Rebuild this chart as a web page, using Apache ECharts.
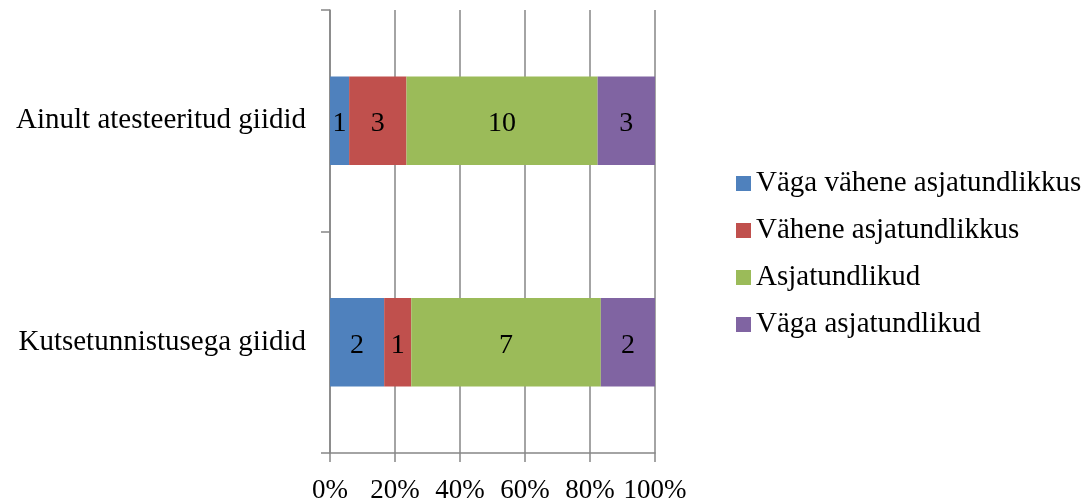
<!DOCTYPE html>
<html>
<head>
<meta charset="utf-8">
<script src="https://cdn.jsdelivr.net/npm/echarts@6/dist/echarts.min.js"></script>
<style>html,body{margin:0;padding:0;background:#fff}#c{width:1092px;height:504px}</style>
</head>
<body>
<div id="c"></div>
<script>
const categories = ['Ainult atesteeritud giidid', 'Kutsetunnistusega giidid'];
const seriesNames = ['Väga vähene asjatundlikkus', 'Vähene asjatundlikkus', 'Asjatundlikud', 'Väga asjatundlikud'];
const vagaVahene = [1, 2];
const vahene = [3, 1];
const asjatundlikud = [10, 7];
const vagaAsjatundlikud = [3, 2];
const xTicks = [0, 20, 40, 60, 80, 100];
const colors = ['#4F81BD', '#C0504D', '#9BBB59', '#8064A2'];

const counts = [vagaVahene, vahene, asjatundlikud, vagaAsjatundlikud];
const totals = categories.map((_, i) => counts.reduce((s, arr) => s + arr[i], 0));
const font = 'Liberation Serif';

const chart = echarts.init(document.getElementById('c'));
chart.setOption({
  animation: false,
  backgroundColor: '#fff',
  grid: { left: 330, right: 437, top: 10, bottom: 51, containLabel: false },
  legend: {
    orient: 'vertical',
    left: 731,
    top: 164,
    itemWidth: 15,
    itemHeight: 15,
    itemGap: 18,
    icon: 'rect',
    textStyle: { fontFamily: font, fontSize: 29, color: '#000', lineHeight: 29 },
    data: seriesNames
  },
  xAxis: {
    type: 'value',
    min: xTicks[0],
    max: xTicks[xTicks.length - 1],
    interval: 20,
    axisLine: { show: true, lineStyle: { color: '#868686', width: 1.5 } },
    axisTick: { show: true, length: 9, lineStyle: { color: '#868686', width: 1.5 } },
    splitLine: { show: true, lineStyle: { color: '#868686', width: 1.5 } },
    axisLabel: { formatter: '{value}%', fontFamily: font, fontSize: 27, color: '#000', margin: 24 }
  },
  yAxis: {
    type: 'category',
    inverse: true,
    data: categories,
    axisLine: { show: true, lineStyle: { color: '#868686', width: 1.5 } },
    axisTick: { show: true, length: 9, lineStyle: { color: '#868686', width: 1.5 } },
    axisLabel: { fontFamily: font, fontSize: 29, color: '#000', margin: 24, padding: [5, 0, 0, 0] }
  },
  series: seriesNames.map((name, k) => ({
    name: name,
    type: 'bar',
    stack: 'total',
    barWidth: '40%',
    itemStyle: { color: colors[k] },
    label: {
      show: true,
      position: 'inside',
      offset: [0, 3],
      fontFamily: font,
      fontSize: 28,
      color: '#000',
      formatter: p => String(counts[k][p.dataIndex])
    },
    data: counts[k].map((v, i) => v / totals[i] * 100)
  }))
});
</script>
</body>
</html>
